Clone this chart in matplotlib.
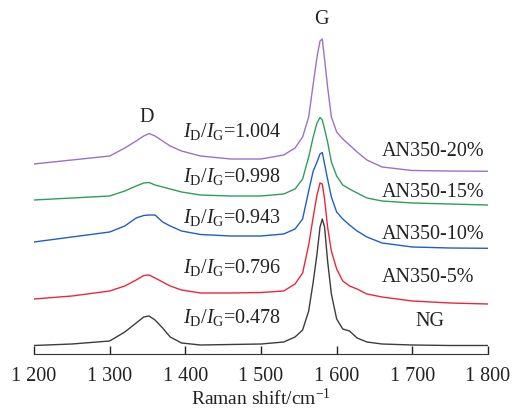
import matplotlib
matplotlib.use('Agg')
import matplotlib.pyplot as plt

plt.rcParams['font.family'] = ['Liberation Serif', 'DejaVu Serif']
plt.rcParams['mathtext.fontset'] = 'custom'
plt.rcParams['mathtext.rm'] = 'Liberation Serif'
plt.rcParams['mathtext.it'] = 'Liberation Serif:italic'

# Raman shift (cm-1)
shift = [1200, 1250, 1300, 1320, 1335, 1345, 1352, 1360, 1370, 1380, 1395, 1420,
         1460, 1500, 1530, 1545, 1555, 1563, 1569, 1574, 1578, 1581, 1584, 1588,
         1593, 1600, 1608, 1617, 1627, 1640, 1660, 1700, 1750, 1800]

# stacked intensities (a.u.)
ng = [5.5, 7, 10, 19, 28, 34, 35, 31, 23, 14, 8, 6, 6.5, 7, 9, 14, 21, 40, 69, 97,
      124, 132, 124, 90, 57, 32, 22, 20, 13, 9, 7, 6, 5.5, 5.5]
an5 = [52, 55, 60, 65, 71, 75.5, 76, 73, 69, 65, 61, 58, 58, 58.5, 60, 67, 78, 106,
       134, 156, 168, 167, 152, 124, 100, 82, 70, 65, 62, 57, 54, 50, 48, 47]
an10 = [109, 114, 119, 125, 133, 135.5, 136, 136, 129, 125, 120, 116.5, 115, 115,
        117, 122, 132, 160, 180, 189, 197, 198.5, 187, 172, 154, 139, 132, 126, 120,
        114, 108, 104, 103, 102.7]
an15 = [151, 153, 155, 160, 165, 168, 168.5, 166, 164, 162, 159, 156, 155, 155, 157,
        162, 172, 194, 214, 228, 233.5, 231, 222, 209, 189, 175, 166, 162, 158, 153,
        150, 148, 147, 146]
an20 = [187, 191, 195, 203, 210, 215, 217.5, 215, 210, 205, 200, 195, 192, 192, 196,
        203, 214, 234, 267, 294, 310, 312, 292, 264, 234, 219, 212, 206, 199, 191,
        184, 180.5, 180, 179.7]

series = [ng, an5, an10, an15, an20]
names = ['NG', 'AN350-5%', 'AN350-10%', 'AN350-15%', 'AN350-20%']
ratios = ['0.478', '0.796', '0.943', '0.998', '1.004']
colors = ['#3c3c3c', '#e8283a', '#1f5fc4', '#2e9e5e', '#9b72c8']

fig = plt.figure(figsize=(5.13, 4.10), dpi=100)
ax = fig.add_axes([34/513, 55/410, 454/513, 355/410])

for y, c in zip(series, colors):
    ax.plot(shift, y, color=c, lw=1.0)

# label positions
name_y = [30, 74, 117, 159, 201]
ratio_y = [34, 85, 134, 175, 221]
for i in range(5):
    ax.text(1397, ratio_y[i], r'$\mathit{I}_{\mathrm{D}}/\mathit{I}_{\mathrm{G}}$=' + ratios[i],
            fontsize=14.5, va='center', ha='left', color='#222222')
    if names[i] == 'NG':
        ax.text(1723, name_y[i], names[i], fontsize=14.5, va='center', ha='center', color='#222222')
    else:
        ax.text(1660, name_y[i], names[i], fontsize=14.5, va='center', ha='left', color='#222222')

ax.text(1349.5, 235, 'D', fontsize=14.5, ha='center', va='center', color='#222222')
ax.text(1580, 332, 'G', fontsize=14.5, ha='center', va='center', color='#222222')

ax.set_xlim(1200, 1800)
ax.set_ylim(-3, 352)
ticks = list(range(1200, 1801, 100))
ax.set_xticks(ticks)
ax.set_xticklabels(['1 ' + str(t)[1:] for t in ticks])
ax.set_yticks([])
for s in ['left', 'right', 'top']:
    ax.spines[s].set_visible(False)
ax.spines['bottom'].set_color('#333333')
ax.tick_params(axis='x', direction='in', length=6, width=1, pad=9, labelsize=14.5,
               colors='#222222')
ax.set_xlabel('Raman shift/cm$^{-1}$', fontsize=14, labelpad=1, color='#222222')
ax.patch.set_alpha(0)

fig.savefig('out.png', dpi=100)
